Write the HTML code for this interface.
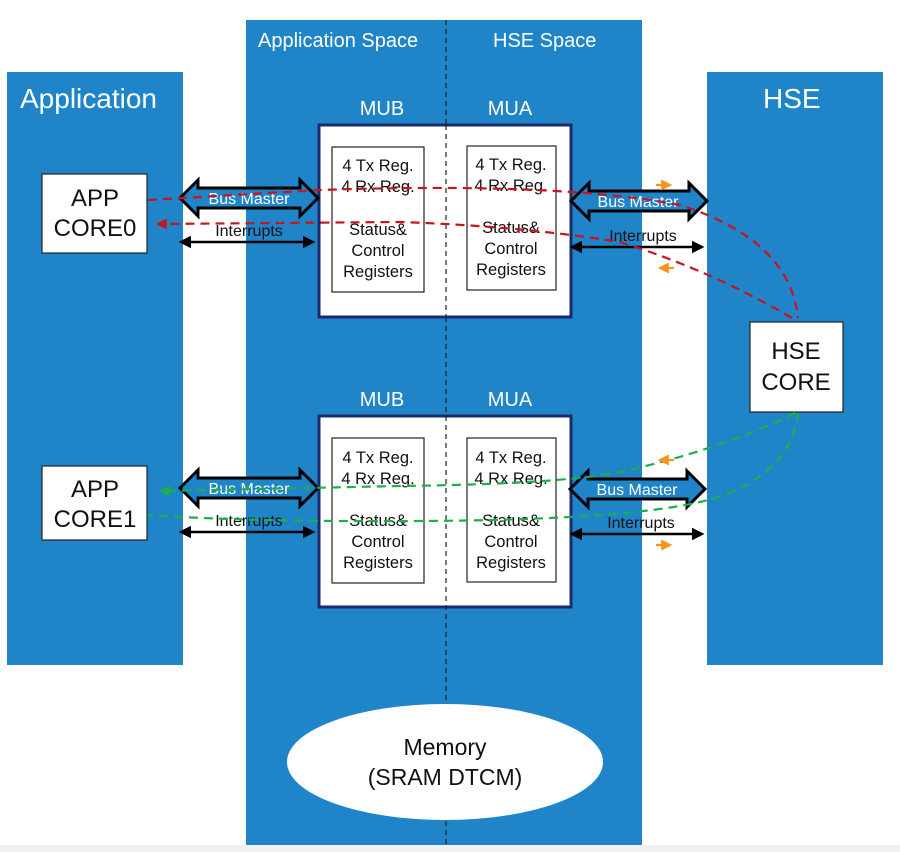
<!DOCTYPE html>
<html><head><meta charset="utf-8"><style>
html,body{margin:0;padding:0;background:#fff;}
svg{display:block;font-family:"Liberation Sans",Arial,sans-serif;}
</style></head><body>
<svg width="900" height="852" viewBox="0 0 900 852" xmlns="http://www.w3.org/2000/svg">
<defs>
<marker id="ah" viewBox="0 0 10 10" refX="8" refY="5" markerWidth="5" markerHeight="5" orient="auto-start-reverse"><path d="M0,0 L10,5 L0,10 z" fill="#000"/></marker>
<marker id="rh" viewBox="0 0 10 10" refX="8" refY="5" markerWidth="5" markerHeight="5" orient="auto"><path d="M0,0 L10,5 L0,10 z" fill="#c8141e"/></marker>
<marker id="gh" viewBox="0 0 10 10" refX="8" refY="5" markerWidth="5" markerHeight="5" orient="auto"><path d="M0,0 L10,5 L0,10 z" fill="#1ab04a"/></marker>
<marker id="oh" viewBox="0 0 10 10" refX="8" refY="5" markerWidth="5" markerHeight="5" orient="auto"><path d="M0,0 L10,5 L0,10 z" fill="#f7941d"/></marker>
</defs>
<rect x="0" y="845" width="900" height="7" fill="#f0f0f0"/>
<rect x="7" y="72" width="176" height="593" fill="#1f85c8"/>
<rect x="246" y="20" width="396" height="825" fill="#1f85c8"/>
<rect x="707" y="72" width="176" height="593" fill="#1f85c8"/>
<line x1="446" y1="20" x2="446" y2="845" stroke="#222" stroke-width="1.2" stroke-dasharray="5,4"/>
<g fill="#fff">
<text x="20" y="108" font-size="28">Application</text>
<text x="763" y="108" font-size="28">HSE</text>
<text x="258" y="47" font-size="20">Application Space</text>
<text x="493" y="47" font-size="20">HSE Space</text>
<text x="382" y="115" font-size="20" text-anchor="middle">MUB</text>
<text x="510" y="115" font-size="20" text-anchor="middle">MUA</text>
<text x="382" y="406" font-size="20" text-anchor="middle">MUB</text>
<text x="510" y="406" font-size="20" text-anchor="middle">MUA</text>
</g>
<g stroke="#1a2a6e" stroke-width="3" fill="#fff">
<rect x="319" y="125" width="252" height="192"/>
<rect x="319" y="416" width="252" height="191"/>
</g>
<line x1="446" y1="125" x2="446" y2="317" stroke="#222" stroke-width="1.2" stroke-dasharray="5,4"/>
<line x1="446" y1="416" x2="446" y2="607" stroke="#222" stroke-width="1.2" stroke-dasharray="5,4"/>
<g stroke="#222" stroke-width="1.2" fill="#fff">
<rect x="332" y="147" width="92" height="145"/>
<rect x="467" y="146" width="89" height="144"/>
<rect x="332" y="438" width="92" height="145"/>
<rect x="467" y="438" width="89" height="144"/>
<rect x="42" y="174" width="105" height="79"/>
<rect x="42" y="466" width="105" height="74"/>
<rect x="750" y="322" width="93" height="90"/>
</g>
<g font-size="16.5" fill="#111" text-anchor="middle">
<text x="378" y="171">4 Tx Reg.</text><text x="378" y="192">4 Rx Reg.</text>
<text x="378" y="235">Status&amp;</text><text x="378" y="256">Control</text><text x="378" y="277">Registers</text>
<text x="511" y="170">4 Tx Reg.</text><text x="511" y="191">4 Rx Reg.</text>
<text x="511" y="233">Status&amp;</text><text x="511" y="254">Control</text><text x="511" y="275">Registers</text>
<text x="378" y="463">4 Tx Reg.</text><text x="378" y="484">4 Rx Reg.</text>
<text x="378" y="526">Status&amp;</text><text x="378" y="547">Control</text><text x="378" y="568">Registers</text>
<text x="511" y="463">4 Tx Reg.</text><text x="511" y="484">4 Rx Reg.</text>
<text x="511" y="526">Status&amp;</text><text x="511" y="547">Control</text><text x="511" y="568">Registers</text>
</g>
<g font-size="24" fill="#111" text-anchor="middle">
<text x="95" y="206">APP</text><text x="95" y="236">CORE0</text>
<text x="95" y="497">APP</text><text x="95" y="527">CORE1</text>
<text x="796" y="359">HSE</text><text x="796" y="390">CORE</text>
</g>
<ellipse cx="445" cy="762" rx="158" ry="58" fill="#fff"/>
<g font-size="23" fill="#111" text-anchor="middle"><text x="445" y="755">Memory</text><text x="445" y="785">(SRAM DTCM)</text></g>
<g fill="#1f85c8" stroke="#000" stroke-width="3" stroke-linejoin="miter">
<path d="M180,198 L198,180 L198,188 L300,188 L300,180 L318,198 L300,216 L300,208 L198,208 L198,216 Z"/>
<path d="M571,201 L589,183 L589,191 L689,191 L689,183 L707,201 L689,219 L689,211 L589,211 L589,219 Z"/>
<path d="M180,488 L198,470 L198,478 L300,478 L300,470 L318,488 L300,506 L300,498 L198,498 L198,506 Z"/>
<path d="M570,489 L588,471 L588,479 L687,479 L687,471 L705,489 L687,507 L687,499 L588,499 L588,507 Z"/>
</g>
<g fill="#fff" font-size="16" text-anchor="middle">
<text x="249" y="204">Bus Master</text><text x="638" y="207">Bus Master</text>
<text x="249" y="494">Bus Master</text><text x="637" y="495">Bus Master</text>
</g>
<g stroke="#000" stroke-width="2.5" marker-start="url(#ah)" marker-end="url(#ah)">
<line x1="181" y1="242" x2="313" y2="242"/>
<line x1="572" y1="247" x2="702" y2="247"/>
<line x1="181" y1="532" x2="313" y2="532"/>
<line x1="572" y1="534" x2="702" y2="534"/>
</g>
<g fill="#111" font-size="16" text-anchor="middle">
<text x="249" y="236">Interrupts</text><text x="643" y="241">Interrupts</text>
<text x="249" y="526">Interrupts</text><text x="641" y="528">Interrupts</text>
</g>
<g fill="none" stroke-width="2.2" stroke-dasharray="9,6">
<path d="M148,200 L320,190 Q560,182 680,205 Q790,240 798,318" stroke="#c8141e"/>
<path d="M792,318 Q710,270 620,242 Q520,226 400,222 L158,224" stroke="#c8141e" marker-end="url(#rh)"/>
<path d="M795,413 Q720,450 620,472 Q560,484 400,486 L161,491" stroke="#1ab04a" marker-end="url(#gh)"/>
<path d="M798,413 Q790,480 700,502 Q620,520 420,521 Q250,522 148,515" stroke="#1ab04a"/>
</g>
<g stroke="#f7941d" stroke-width="2.2" fill="none">
<line x1="656" y1="185" x2="670" y2="185" marker-end="url(#oh)"/>
<line x1="674" y1="268" x2="660" y2="268" marker-end="url(#oh)"/>
<line x1="674" y1="460" x2="660" y2="460" marker-end="url(#oh)"/>
<line x1="656" y1="545" x2="670" y2="545" marker-end="url(#oh)"/>
</g>
</svg>
</body></html>
